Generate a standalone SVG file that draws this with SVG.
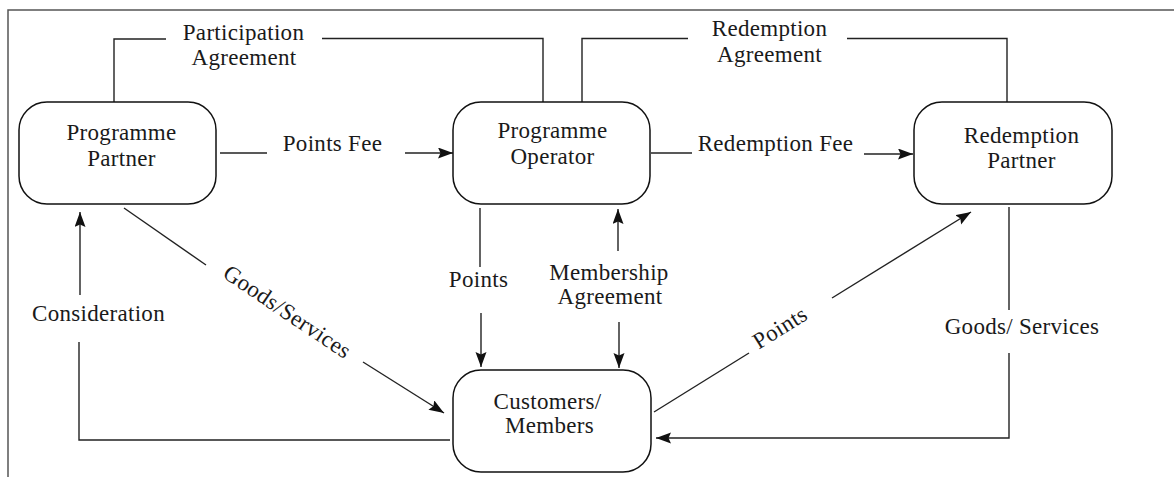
<svg xmlns="http://www.w3.org/2000/svg" width="1174" height="477" viewBox="0 0 1174 477">
  <style>
    .frame { fill: none; stroke: #555; stroke-width: 1.5; }
    .box { fill: #fff; stroke: #111; stroke-width: 1.5; }
    .conn { fill: none; stroke: #222; stroke-width: 1.4; }
    .arrow { marker-end: url(#head); }
    text { font-family: "Liberation Serif", "Times New Roman", serif; font-size: 23px; letter-spacing: 0.3px; fill: #1a1a1a; text-anchor: middle; }
  </style>
  <defs>
    <marker id="head" markerUnits="userSpaceOnUse" markerWidth="16" markerHeight="12" refX="15" refY="5.5" orient="auto">
      <path d="M0,0 L15,5.5 L0,11 L2.5,5.5 z" fill="#111"/>
    </marker>
  </defs>

  <rect width="1174" height="477" fill="#fff"/>

  <!-- open frame: top and left edges -->
  <path class="frame" d="M8,477 V10 H1174"/>

  <g id="connectors">
    <!-- Participation Agreement -->
    <path class="conn" d="M114,102 V39 H166"/>
    <path class="conn" d="M322,38.5 H543 V102"/>
    <!-- Redemption Agreement -->
    <path class="conn" d="M582,102 V38.5 H688"/>
    <path class="conn" d="M847,38.5 H1007 V102"/>
    <!-- Points Fee -->
    <path class="conn" d="M220,153 H267"/>
    <path class="conn arrow" d="M405,153 H453"/>
    <!-- Redemption Fee -->
    <path class="conn" d="M651,153 H692"/>
    <path class="conn arrow" d="M864,154 H913"/>
    <!-- Goods/Services to customers -->
    <path class="conn" d="M124,208 L206,265"/>
    <path class="conn arrow" d="M363,362 L444,413"/>
    <!-- Consideration -->
    <path class="conn arrow" d="M80,295 V212"/>
    <path class="conn" d="M79,342 V440 H450"/>
    <!-- Points from operator -->
    <path class="conn" d="M480,208 V267"/>
    <path class="conn arrow" d="M481,313 V367"/>
    <!-- Membership Agreement -->
    <path class="conn arrow" d="M618,251 V209"/>
    <path class="conn arrow" d="M619,322 V368"/>
    <!-- Points to redemption partner -->
    <path class="conn" d="M654,412 L749,353"/>
    <path class="conn arrow" d="M832,298 L971,212"/>
    <!-- Goods/ Services from redemption partner -->
    <path class="conn" d="M1009,207 V310"/>
    <path class="conn arrow" d="M1009,353 V438 H656"/>
  </g>

  <g id="programme-partner">
    <rect class="box" x="19" y="102" width="197" height="102" rx="28"/>
    <text x="121.5" y="140">Programme</text>
    <text x="121.5" y="165.5">Partner</text>
  </g>

  <g id="programme-operator">
    <rect class="box" x="453" y="102" width="197" height="102" rx="28"/>
    <text x="552.5" y="138">Programme</text>
    <text x="552.5" y="163.5">Operator</text>
  </g>

  <g id="redemption-partner">
    <rect class="box" x="914" y="102" width="198" height="102" rx="28"/>
    <text x="1021.5" y="143">Redemption</text>
    <text x="1021.5" y="168">Partner</text>
  </g>

  <g id="customers-members">
    <rect class="box" x="453" y="370" width="198" height="102" rx="28"/>
    <text x="547.5" y="408.5">Customers/</text>
    <text x="549.5" y="433">Members</text>
  </g>

  <g id="labels">
    <text x="243.5" y="40">Participation</text>
    <text x="244" y="65">Agreement</text>
    <text x="769.5" y="36">Redemption</text>
    <text x="769.5" y="61.5">Agreement</text>
    <text x="332.5" y="150.5">Points Fee</text>
    <text x="775.5" y="151">Redemption Fee</text>
    <text x="98.5" y="320.5">Consideration</text>
    <text x="478.5" y="287">Points</text>
    <text x="609" y="280">Membership</text>
    <text x="610" y="304">Agreement</text>
    <text x="1022" y="334">Goods/ Services</text>
    <text transform="translate(283,318) rotate(34)">Goods/Services</text>
    <text transform="translate(784,334) rotate(-32)">Points</text>
  </g>
</svg>
